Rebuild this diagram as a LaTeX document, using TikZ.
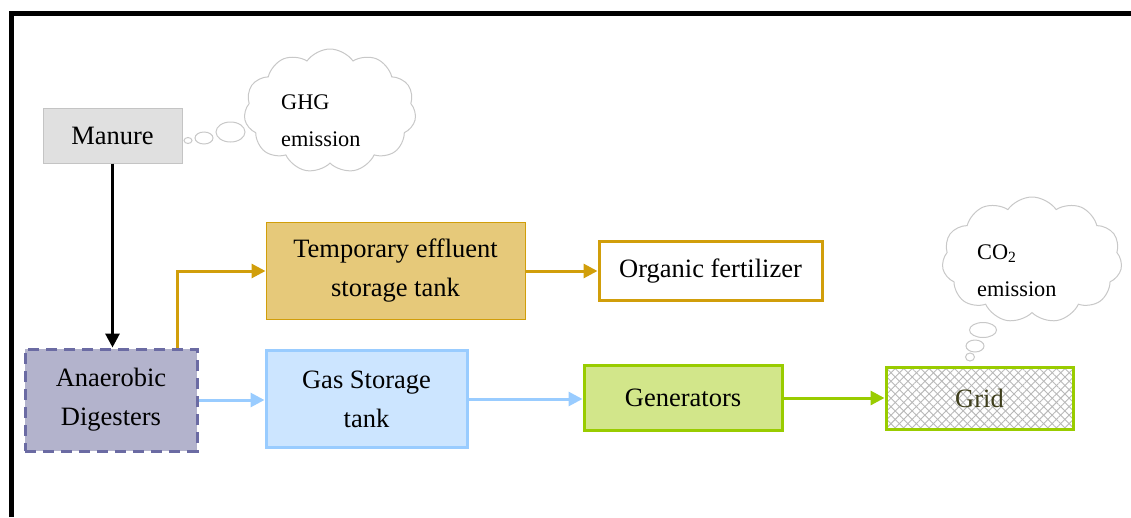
\documentclass[tikz,border=0pt]{standalone}
\usepackage{fontspec}
\setmainfont{Liberation Serif}
\usetikzlibrary{arrows.meta,shapes.symbols,shapes.geometric,patterns.meta}
\definecolor{manfill}{HTML}{E0E0E0}
\definecolor{manline}{HTML}{C4C4C4}
\definecolor{adfill}{HTML}{B3B3CC}
\definecolor{adline}{HTML}{6B6BA3}
\definecolor{tmpfill}{HTML}{E6C97A}
\definecolor{gold}{HTML}{D19E0A}
\definecolor{gasfill}{HTML}{CCE5FF}
\definecolor{gasline}{HTML}{99CCFF}
\definecolor{genfill}{HTML}{D2E68A}
\definecolor{genline}{HTML}{99CC00}
\definecolor{cloudline}{HTML}{C8C8C8}
\definecolor{gridtext}{HTML}{3E3E1C}
\tikzset{
  box/.style={rectangle, inner sep=0pt, align=center,
    font=\fontsize{26.5}{39}\selectfont},
  cloudbox/.style={cloud, cloud puffs=11, cloud puff arc=110, cloud ignores aspect,
    draw=cloudline, line width=1pt, fill=white, inner sep=0pt},
  bubble/.style={ellipse, draw=cloudline, line width=1pt, fill=white, inner sep=0pt},
  cloudtext/.style={align=left, inner sep=0pt, font=\fontsize{22.3}{37}\selectfont},
  tip/.style={-{Triangle[length=14pt,width=14pt]}},
  conn/.style={line width=3pt, tip}
}
\begin{document}
\begin{tikzpicture}[x=1pt,y=-1pt]
\useasboundingbox (0,0) rectangle (1131,517);
% frame
\coordinate (fbl) at (11.5,517);
\coordinate (ftl) at (11.5,13.5);
\coordinate (ftr) at (1131,13.5);
\draw[line width=4.5pt] (fbl) -- (ftl) -- (ftr);

% boxes
\node[box, fill=manfill, draw=manline, line width=1pt, minimum width=139pt, minimum height=55pt] (man) at (112.5,135.5) {Manure};
\node[box, fill=adfill, draw=adline, line width=3pt, dash pattern=on 11pt off 7pt, minimum width=172pt, minimum height=102pt] (ad) at (111,400) {Anaerobic\\Digesters};
\node[box, fill=tmpfill, draw=gold, line width=1pt, minimum width=259pt, minimum height=97pt] (tmp) at (395.5,271) {Temporary effluent\\storage tank};
\node[box, fill=white, draw=gold, line width=3pt, minimum width=223pt, minimum height=59pt] (org) at (710.5,271) {Organic fertilizer};
\node[box, fill=gasfill, draw=gasline, line width=3pt, minimum width=201pt, minimum height=97pt] (gas) at (366.5,399) {Gas Storage\\tank};
\node[box, fill=genfill, draw=genline, line width=3pt, minimum width=198pt, minimum height=65pt] (gen) at (683,398) {Generators};
\node[box, draw=genline, line width=3pt, minimum width=187pt, minimum height=62pt,
  preaction={fill=white},
  preaction={pattern={Lines[angle=45,distance=6pt,line width=0.9pt]}, pattern color=gray!55},
  preaction={pattern={Lines[angle=-45,distance=6pt,line width=0.9pt]}, pattern color=gray!55},
  text=gridtext] (grid) at (979.5,398) {Grid};

% clouds
\node[cloudbox, minimum width=172pt, minimum height=124pt] (c1) at (330,111) {};
\node[bubble, minimum width=29pt, minimum height=20pt] (b1a) at (230.5,132) {};
\node[bubble, minimum width=18pt, minimum height=12pt] (b1b) at (204,138) {};
\node[bubble, minimum width=8pt, minimum height=6pt] (b1c) at (188,140.5) {};
\node[cloudtext, anchor=west] (t1) at (281,121) {GHG\\emission};

\node[cloudbox, minimum width=180pt, minimum height=126pt] (c2) at (1032,260) {};
\node[bubble, minimum width=27pt, minimum height=15pt] (b2a) at (983,330) {};
\node[bubble, minimum width=18pt, minimum height=12pt] (b2b) at (975,346) {};
\node[bubble, minimum width=9pt, minimum height=8pt] (b2c) at (970,357) {};
\node[cloudtext, anchor=west] (t2) at (977,271) {CO\textsubscript{2}\\emission};

% connectors
\draw[conn, black] (man.south) -- (man.south |- ad.north);
\draw[conn, gold] ([xshift=66pt]ad.north) |- (tmp.west);
\draw[conn, gold] (tmp.east) -- (org.west);
\draw[conn, gasline] (ad.east) -- (ad.east -| gas.west);
\draw[conn, gasline] (gas.east) -- (gas.east -| gen.west);
\draw[conn, genline] (gen.east) -- (gen.east -| grid.west);
\end{tikzpicture}
\end{document}
